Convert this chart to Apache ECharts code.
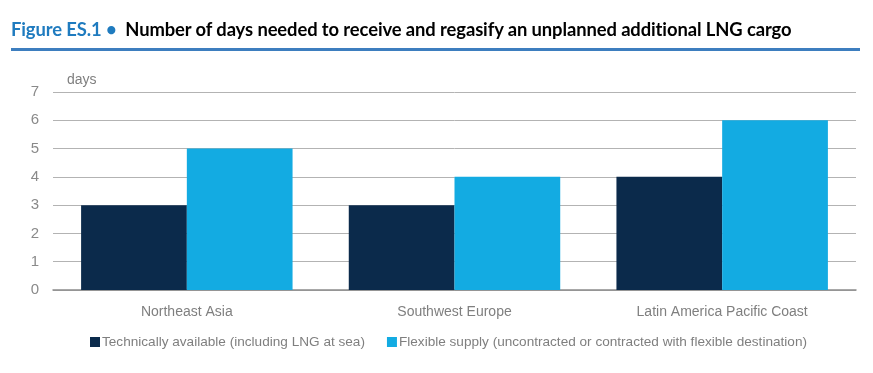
<!DOCTYPE html>
<html><head><meta charset="utf-8">
<script src="https://cdn.jsdelivr.net/npm/echarts@6/dist/echarts.min.js"></script>
<style>
html,body{margin:0;padding:0;background:#fff;}
#title{position:absolute;left:11px;top:18px;font-family:Lato,"Open Sans",sans-serif;font-weight:bold;font-size:18.4px;color:#000;white-space:nowrap;letter-spacing:-0.1px;}
#title .fig{color:#1f7bbf;}
#rule{position:absolute;left:11px;top:48px;width:849px;height:3px;background:#3d7ebf;}
#chart{position:absolute;left:0;top:0;width:873px;height:373px;}
</style></head>
<body>
<div id="chart"></div>
<div id="title"><span class="fig">Figure ES.1 •</span>&nbsp; Number of days needed to receive and regasify an unplanned additional LNG cargo</div>
<div id="rule"></div>
<script>
const categories = ["Northeast Asia", "Southwest Europe", "Latin America Pacific Coast"];
const seriesNames = ["Technically available (including LNG at sea)", "Flexible supply (uncontracted or contracted with flexible destination)"];
const technicallyAvailable = [3, 3, 4];
const flexibleSupply = [5, 4, 6];
const yTicks = [0, 1, 2, 3, 4, 5, 6, 7];
const unitLabel = "days";

const font = '"Liberation Sans",Arial,sans-serif';
const chart = echarts.init(document.getElementById('chart'), null, {renderer: 'canvas'});
chart.setOption({
  animation: false,
  textStyle: {fontFamily: font},
  grid: {left: 53, right: 17, top: 92, bottom: 83, containLabel: false},
  legend: {
    bottom: 24, left: 90, padding: 0, itemWidth: 10, itemHeight: 10, itemGap: 22,
    icon: 'rect',
    textStyle: {color: '#7f7f7f', fontSize: 13.6, fontFamily: font, padding: [0,0,0,-3]},
    data: seriesNames
  },
  xAxis: {
    type: 'category', data: categories,
    axisLine: {lineStyle: {color: '#8c8c8c', width: 1.5}},
    axisTick: {show: false},
    axisLabel: {color: '#7f7f7f', fontSize: 14, margin: 15, fontFamily: font}
  },
  yAxis: {
    type: 'value', min: yTicks[0], max: yTicks[yTicks.length-1], interval: 1,
    name: unitLabel, nameLocation: 'end', nameGap: 5,
    nameTextStyle: {color: '#7f7f7f', fontSize: 14, align: 'left', padding: [0,0,0,14], fontFamily: font},
    axisLine: {show: false}, axisTick: {show: false},
    axisLabel: {color: '#8a8a8a', fontSize: 15, margin: 14, fontFamily: font},
    splitLine: {lineStyle: {color: '#b3b3b3', width: 1}}
  },
  series: [
    {name: seriesNames[0], type: 'bar', data: technicallyAvailable, barGap: '0%', barCategoryGap: '21%',
     itemStyle: {color: '#0b2a4b'}},
    {name: seriesNames[1], type: 'bar', data: flexibleSupply, barGap: '0%', barCategoryGap: '21%',
     itemStyle: {color: '#13abe2'}}
  ]
});
</script>
</body></html>
